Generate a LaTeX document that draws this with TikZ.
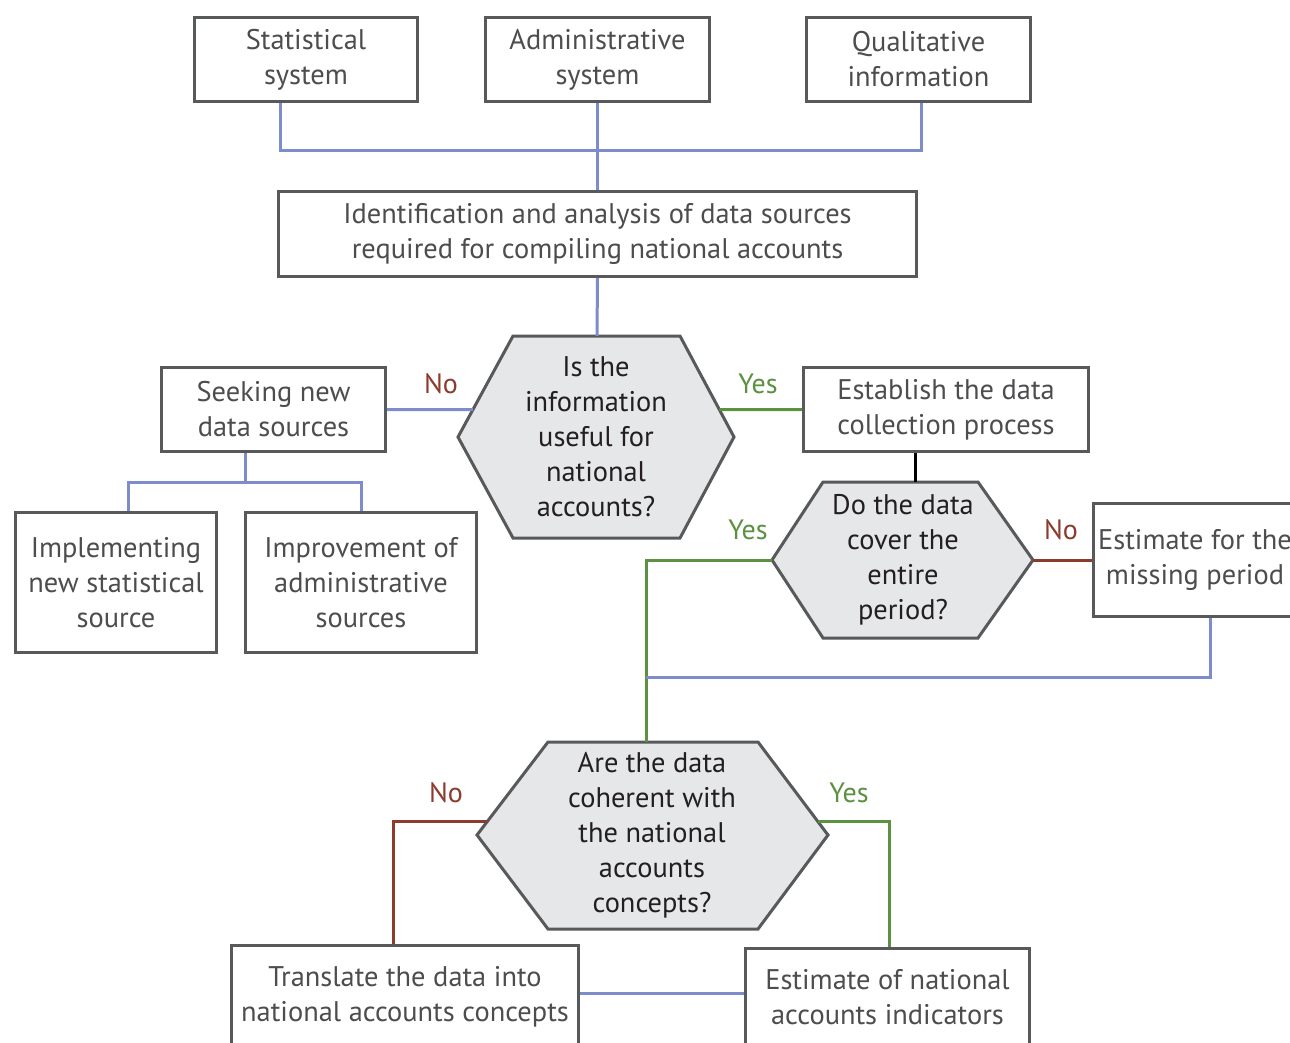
\documentclass[tikz,border=0pt]{standalone}
\usepackage{fontspec}
\setmainfont{PT Sans}
\usetikzlibrary{calc}
\definecolor{boxgray}{HTML}{58595B}
\definecolor{boxtext}{HTML}{4D4D4F}
\definecolor{hextext}{HTML}{231F20}
\definecolor{hexfill}{HTML}{E6E7E8}
\definecolor{lblue}{HTML}{7F8CCB}
\definecolor{lgreen}{HTML}{5B9140}
\definecolor{lred}{HTML}{8C3B2D}
\tikzset{
  box/.style={draw=boxgray, line width=3pt, fill=white, align=center, inner sep=0pt,
    text=boxtext, font=\fontsize{28.4}{35}\selectfont},
  hexshape/.style={draw=boxgray, line width=3pt, fill=hexfill, line join=miter},
  hextxt/.style={align=center, inner sep=0pt, text=hextext, font=\fontsize{28.4}{35}\selectfont},
  bl/.style={draw=lblue, line width=3pt},
  gr/.style={draw=lgreen, line width=3pt},
  rd/.style={draw=lred, line width=3pt},
  bk/.style={draw=black, line width=3pt},
  lblno/.style={text=lred, inner sep=0pt, font=\fontsize{28}{30}\selectfont},
  lblyes/.style={text=lgreen, inner sep=0pt, font=\fontsize{28}{30}\selectfont},
}
\begin{document}
\begin{tikzpicture}[x=1pt,y=-1pt]
\useasboundingbox (0,0) rectangle (1290,1043);
\clip (0,0) rectangle (1290,1043);
\fill[white] (0,0) rectangle (1290,1043);

% boxes
\node[box, minimum width=223pt, minimum height=84pt] (stat) at (306,59.5) {Statistical\\system};
\node[box, minimum width=224pt, minimum height=84pt] (admin) at (597.5,59.5) {Administrative\\system};
\node[box, minimum width=224pt, minimum height=84pt] (qual) at (918.5,59.5) {Qualitative\\information};
\node[box, minimum width=638pt, minimum height=85pt] (ident) at (597.5,234) {Identification and analysis of data sources\\required for compiling national accounts};
\node[box, minimum width=224pt, minimum height=84pt] (seek) at (273.5,409.5) {Seeking new\\data sources};
\node[box, minimum width=285pt, minimum height=84pt] (estab) at (946,409.5) {Establish the data\\collection process};
\node[box, minimum width=201pt, minimum height=140pt] (impl) at (116,582.5) {Implementing\\new statistical\\source};
\node[box, minimum width=231pt, minimum height=140pt] (improv) at (361,582.5) {Improvement of\\administrative\\sources};
\node[box, minimum width=204pt, minimum height=113pt] (missing) at (1195,560) {Estimate for the\\missing period};
\node[box, minimum width=347pt, minimum height=104pt] (trans) at (405,997) {Translate the data into\\national accounts concepts};
\node[box, minimum width=284pt, minimum height=98pt] (estnat) at (887.5,997) {Estimate of national\\accounts indicators};

% hexagon 1
\coordinate (h1L) at (458,437); \coordinate (h1TL) at (513,336); \coordinate (h1TR) at (680,336);
\coordinate (h1R) at (734,437); \coordinate (h1BR) at (680,538); \coordinate (h1BL) at (513,538);
\draw[hexshape] (h1L) -- (h1TL) -- (h1TR) -- (h1R) -- (h1BR) -- (h1BL) -- cycle;
\node[hextxt] (h1) at (596,437) {Is the\\information\\useful for\\national\\accounts?};
\coordinate (h1T) at (597,336);
\coordinate (h1Lp) at ($(h1L)!0.272!(h1TL)$);
\coordinate (h1Rp) at ($(h1R)!0.272!(h1TR)$);

% hexagon 2
\coordinate (h2L) at (772,560); \coordinate (h2TL) at (823,482); \coordinate (h2TR) at (978,482);
\coordinate (h2R) at (1033,560); \coordinate (h2BR) at (978,638); \coordinate (h2BL) at (823,638);
\draw[hexshape] (h2L) -- (h2TL) -- (h2TR) -- (h2R) -- (h2BR) -- (h2BL) -- cycle;
\node[hextxt] (h2) at (903,560) {Do the data\\cover the\\entire\\period?};
\coordinate (h2T) at (915,482);

% hexagon 3
\coordinate (h3L) at (477,835); \coordinate (h3TL) at (548,742); \coordinate (h3TR) at (758,742);
\coordinate (h3R) at (828,835); \coordinate (h3BR) at (758,929); \coordinate (h3BL) at (548,929);
\draw[hexshape] (h3L) -- (h3TL) -- (h3TR) -- (h3R) -- (h3BR) -- (h3BL) -- cycle;
\node[hextxt] (h3) at (652,835) {Are the data\\coherent with\\the national\\accounts\\concepts?};
\coordinate (h3T) at (646,742);
\coordinate (h3Lp) at ($(h3L)!0.14!(h3TL)$);
\coordinate (h3Rp) at ($(h3R)!0.14!(h3TR)$);

% junctions
\coordinate (j1) at (598,151);
\coordinate (j2) at (245,482);
\coordinate (j3) at (646,677);

% connectors
\draw[bl] ([xshift=-26pt]stat.south) |- (j1);
\draw[bl] ([xshift=2.5pt]qual.south) |- (j1);
\draw[bl] (admin.south) -- (ident.north);
\draw[bl] (ident.south) -- (h1T);
\draw[bl] (seek.east) -- (h1Lp);
\draw[gr] (h1Rp) -- (estab.west);
\draw[bl] ([xshift=-28.5pt]seek.south) -- (j2);
\draw[bl] ([xshift=12pt]impl.north) |- (j2) -| (improv.north);
\draw[bk] ([xshift=-31pt]estab.south) -- (h2T);
\draw[rd] (h2R) -- (missing.west);
\draw[gr] (h2L) -| (h3T);
\draw[bl] ([xshift=15pt]missing.south) |- (j3);
\draw[rd] (h3Lp) -| ([xshift=-12pt]trans.north);
\draw[gr] (h3Rp) -| ([xshift=1.5pt]estnat.north);
\draw[bl] ([yshift=4pt]trans.east) -- ([yshift=4pt]estnat.west);

% labels
\node[lblno] (n1) at (441,384) {No};
\node[lblyes] (y1) at (758,384) {Yes};
\node[lblyes] (y2) at (748,530) {Yes};
\node[lblno] (n2) at (1061,530) {No};
\node[lblno] (n3) at (446,793) {No};
\node[lblyes] (y3) at (849,793) {Yes};
\end{tikzpicture}
\end{document}
